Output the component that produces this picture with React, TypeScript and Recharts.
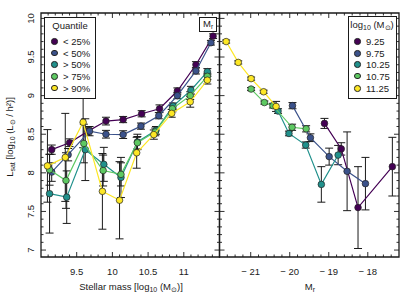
import React from "react";
import { ScatterChart, Scatter, XAxis, YAxis, ErrorBar, ReferenceArea, Legend } from "recharts";

const FONT = '"Liberation Sans", Arial, Helvetica, sans-serif';
const INK = "#1a1a1a";
const W = 411, H = 294;
// frame edges (px) of the two panels
const LEFT = 41, MID = 219.5, RIGHT = 399, TOP = 13, BOTTOM = 257;

const lsatDomain = [6.91, 10.07];
const massDomain = [9.0, 11.5];
const magDomain = [-21.8, -17.2];

const lsatMajor = [7, 7.5, 8, 8.5, 9, 9.5, 10];
const massMajor = [9.5, 10, 10.5, 11];
const magMajor = [-21, -20, -19, -18];
const magLabels = ["\u2212 21", "\u2212 20", "\u2212 19", "\u2212 18"];

const steps = (from: number, to: number, step: number) => {
  const out: number[] = [];
  for (let v = from; v <= to + 1e-9; v += step) out.push(Math.round(v * 100) / 100);
  return out;
};
const lsatTicks = steps(7.0, 10.0, 0.1);
const massTicks = steps(9.1, 11.4, 0.1);
const magTicks = steps(-21.6, -17.4, 0.2);
const isMajor = (list: number[], v: number) => list.some((m) => Math.abs(m - v) < 1e-6);

const colors = ["#440154", "#3b528b", "#21918c", "#5ec962", "#fde725"];
const quantileNames = ["< 25%", "< 50%", "> 50%", "> 75%", "> 90%"];
const massBinNames = ["9.25", "9.75", "10.25", "10.75", "11.25"];

// left panel: stellar mass quantiles
const q25X = [9.15, 9.40, 9.66, 9.91, 10.15, 10.41, 10.66, 10.91, 11.17, 11.41];
const q25Y = [8.30, 8.39, 8.54, 8.67, 8.69, 8.765, 8.83, 9.06, 9.40, 9.77];
const q25E = [0.06, 0.05, 0.05, 0.05, 0.04, 0.04, 0.05, 0.04, 0.04, 0.03];
const q50X = [9.15, 9.38, 9.68, 9.91, 10.15, 10.40, 10.65, 10.91, 11.17, 11.38];
const q50Y = [8.01, 8.235, 8.54, 8.50, 8.495, 8.605, 8.74, 9.00, 9.32, 9.685];
const q50E = [0.12, 0.08, 0.06, 0.05, 0.05, 0.04, 0.04, 0.04, 0.04, 0.03];
const g50X = [9.12, 9.36, 9.62, 9.88, 10.12, 10.35, 10.61, 10.85, 11.10, 11.33];
const g50Y = [7.73, 7.685, 8.30, 8.11, 7.94, 8.40, 8.55, 8.865, 9.07, 9.31];
const g50E = [0.51, 0.34, 0.40, 0.22, 0.26, 0.10, 0.05, 0.04, 0.05, 0.04];
const g75X = [9.12, 9.35, 9.60, 9.87, 10.12, 10.35, 10.60, 10.84, 11.09, 11.33];
const g75Y = [8.04, 7.90, 8.38, 8.03, 7.98, 8.39, 8.53, 8.83, 9.00, 9.25];
const g75E = [0.20, 0.36, 0.25, 0.20, 0.15, 0.08, 0.05, 0.04, 0.05, 0.04];
const g90X = [9.09, 9.34, 9.59, 9.86, 10.10, 10.34, 10.58, 10.83, 11.09, 11.33];
const g90Y = [8.09, 8.20, 8.655, 7.76, 7.645, 8.26, 8.495, 8.77, 8.92, 9.20];
const g90E = [0.47, 0.57, 0.33, 0.49, 0.50, 0.20, 0.06, 0.05, 0.07, 0.05];

// right panel: absolute magnitude, by stellar mass bin
const m925X = [-19.11, -18.68, -18.25, -17.37];
const m925Y = [8.64, 8.31, 7.55, 8.08];
const m925E = [0.065, 0.08, 0.53, 0.38];
const m975X = [-19.93, -19.47, -18.99, -18.53, -18.06];
const m975Y = [8.87, 8.455, 8.21, 8.02, 7.86];
const m975E = [0.04, 0.05, 0.11, 0.51, 0.34];
const m1025X = [-20.30, -20.02, -19.59, -19.19, -18.76];
const m1025Y = [8.80, 8.51, 8.36, 7.85, 8.23];
const m1025E = [0.03, 0.03, 0.04, 0.23, 0.125];
const m1075X = [-20.99, -20.65, -20.43, -19.94, -19.58];
const m1075Y = [9.085, 8.91, 8.87, 8.59, 8.57];
const m1075E = [0.02, 0.02, 0.03, 0.04, 0.04];
const m1125X = [-21.63, -21.32, -20.99, -20.67, -20.35];
const m1125Y = [9.70, 9.43, 9.22, 9.05, 8.86];
const m1125E = [0.02, 0.02, 0.02, 0.02, 0.065];

const rows = (xs: number[], ys: number[], es: number[]) => xs.map((x, i) => ({ x, y: ys[i], e: es[i] }));

const massSeries = [
  rows(q25X, q25Y, q25E), rows(q50X, q50Y, q50E), rows(g50X, g50Y, g50E),
  rows(g75X, g75Y, g75E), rows(g90X, g90Y, g90E),
];
const magSeries = [
  rows(m925X, m925Y, m925E), rows(m975X, m975Y, m975E), rows(m1025X, m1025Y, m1025E),
  rows(m1075X, m1075Y, m1075E), rows(m1125X, m1125Y, m1125E),
];

const tl = { stroke: INK, strokeWidth: 0.9 };

const MassTick = (p: any) => {
  const v = p.payload.value;
  const major = isMajor(massMajor, v);
  const len = major ? 5 : 2.5;
  return (
    <g>
      <line x1={p.x} x2={p.x} y1={BOTTOM} y2={BOTTOM - len} {...tl} />
      <line x1={p.x} x2={p.x} y1={TOP} y2={TOP + len} {...tl} />
      {major && (
        <text x={p.x} y={274.5} textAnchor="middle" fontSize={9.5} fill={INK} fontFamily={FONT}>{v}</text>
      )}
    </g>
  );
};

const MagTick = (p: any) => {
  const v = p.payload.value;
  const k = magMajor.findIndex((m) => Math.abs(m - v) < 1e-6);
  const len = k >= 0 ? 5 : 2.5;
  return (
    <g>
      <line x1={p.x} x2={p.x} y1={BOTTOM} y2={BOTTOM - len} {...tl} />
      <line x1={p.x} x2={p.x} y1={TOP} y2={TOP + len} {...tl} />
      {k >= 0 && (
        <text x={p.x} y={274.5} textAnchor="middle" fontSize={9.5} fill={INK} fontFamily={FONT}>{magLabels[k]}</text>
      )}
    </g>
  );
};

// left axis ticks, also draws the inward ticks of the shared and the right frame edge
const LsatTick = (p: any) => {
  const v = p.payload.value;
  const major = isMajor(lsatMajor, v);
  const len = major ? 5 : 2.5;
  return (
    <g>
      <line x1={LEFT} x2={LEFT + len} y1={p.y} y2={p.y} {...tl} />
      <line x1={MID - len} x2={MID + len} y1={p.y} y2={p.y} {...tl} />
      <line x1={RIGHT - len} x2={RIGHT} y1={p.y} y2={p.y} {...tl} />
      {major && (
        <text transform={`translate(34, ${p.y}) rotate(-90)`} textAnchor="middle" fontSize={9.5} fill={INK} fontFamily={FONT}>{v}</text>
      )}
    </g>
  );
};

const sub = (s: string) => [
  <tspan key="a" dy={2.2} fontSize={7}>{s}</tspan>,
];

const YTitle = () => (
  <text transform="translate(13, 137) rotate(-90)" textAnchor="middle" fontSize={9.5} fill={INK} fontFamily={FONT}>
    L<tspan dy={2.2} fontSize={7}>sat</tspan>
    <tspan dy={-2.2}> [log</tspan>
    <tspan dy={2.2} fontSize={7}>10</tspan>
    <tspan dy={-2.2}> (L</tspan>
    <tspan dy={2.2} fontSize={7}>{"\u2299"}</tspan>
    <tspan dy={-2.2}> / h{"\u00b2"})]</tspan>
  </text>
);

const MassTitle = () => (
  <text x={131} y={289.5} textAnchor="middle" fontSize={9.5} fill={INK} fontFamily={FONT}>
    Stellar mass [log<tspan dy={2.2} fontSize={7}>10</tspan>
    <tspan dy={-2.2}> (M</tspan>
    <tspan dy={2.2} fontSize={7}>{"\u2299"}</tspan>
    <tspan dy={-2.2}>)]</tspan>
  </text>
);

const MagTitle = () => (
  <text x={310} y={289.5} textAnchor="middle" fontSize={9.5} fill={INK} fontFamily={FONT}>
    M<tspan dy={2.2} fontSize={7}>r</tspan>
  </text>
);

const makeDot = (color: string) => (p: any) => (
  <circle cx={p.cx} cy={p.cy} r={3.3} fill={color} stroke="#222" strokeWidth={0.7} />
);

const legendBox = (title: React.ReactNode, names: string[], w: number, h: number, mx: number, tx: number, rowTop: number[]) => () => (
  <div style={{
    position: "relative", width: w, height: h, boxSizing: "border-box", border: `1px solid ${INK}`,
    background: "#fff", fontFamily: FONT, fontSize: 9.5, color: INK,
  }}>
    <div style={{ position: "absolute", top: 2, left: 0, width: "100%", textAlign: "center", lineHeight: "11px", whiteSpace: "nowrap" }}>{title}</div>
    {names.map((n, i) => (
      <div key={n} style={{ position: "absolute", top: rowTop[i], left: 0, height: 11, lineHeight: "11px", whiteSpace: "nowrap" }}>
        <span style={{
          position: "absolute", left: mx, top: 2.2, width: 6.6, height: 6.6, borderRadius: "50%",
          background: colors[i], boxSizing: "border-box", border: "0.7px solid #222",
        }} />
        <span style={{ position: "absolute", left: tx, top: 0 }}>{n}</span>
      </div>
    ))}
  </div>
);

const QuantileLegend = legendBox("Quantile", quantileNames, 52, 82, 6, 18, [18, 29.6, 41.3, 53, 64.7]);
const MassBinLegend = legendBox(
  <span>log<sub style={{ fontSize: 7, verticalAlign: "-2px" }}>10</sub> (M<sub style={{ fontSize: 7, verticalAlign: "-2px" }}>{"\u2299"}</sub>)</span>,
  massBinNames, 49, 83, 5.7, 17.5, [19.2, 30.8, 41.8, 53.5, 65.8]
);

export default function App() {
  return (
    <div style={{ position: "absolute", left: 0, top: 0, width: W, height: H, background: "#fff" }}>
      <div style={{ position: "absolute", left: 0, top: 0 }}>
        <ScatterChart width={W} height={H} margin={{ top: TOP, right: W - MID, bottom: 0, left: 0 }}>
          <XAxis xAxisId="m" type="number" dataKey="x" domain={massDomain} ticks={massTicks} interval={0}
                 tick={<MassTick />} tickLine={false} axisLine={false} height={H - BOTTOM} allowDataOverflow
                 label={{ content: () => <MassTitle /> }} />
          <YAxis yAxisId="l" type="number" dataKey="y" domain={lsatDomain} ticks={lsatTicks} interval={0}
                 tick={<LsatTick />} tickLine={false} axisLine={false} width={LEFT} allowDataOverflow
                 label={{ content: () => <YTitle /> }} />
          <ReferenceArea xAxisId="m" yAxisId="l" x1={massDomain[0]} x2={massDomain[1]} y1={lsatDomain[0]} y2={lsatDomain[1]}
                         fill="none" fillOpacity={0} stroke={INK} strokeWidth={1.3} ifOverflow="visible" />
          {massSeries.map((d, i) => (
            <Scatter key={quantileNames[i]} name={quantileNames[i]} data={d} xAxisId="m" yAxisId="l"
                     fill={colors[i]} line={{ stroke: colors[i], strokeWidth: 1.2 }} shape={makeDot(colors[i])}
                     isAnimationActive={false}>
              <ErrorBar dataKey="e" direction="y" width={4} stroke={INK} strokeWidth={1} />
            </Scatter>
          ))}
          <Legend layout="vertical" align="center" verticalAlign="middle" content={QuantileLegend}
                  wrapperStyle={{ left: 44, top: 17, right: "auto", bottom: "auto", width: 52, height: 82 }} />
        </ScatterChart>
      </div>
      <div style={{ position: "absolute", left: 0, top: 0 }}>
        <ScatterChart width={W} height={H} margin={{ top: TOP, right: W - RIGHT, bottom: 0, left: MID }}>
          <XAxis xAxisId="r" type="number" dataKey="x" domain={magDomain} ticks={magTicks} interval={0}
                 tick={<MagTick />} tickLine={false} axisLine={false} height={H - BOTTOM} allowDataOverflow
                 label={{ content: () => <MagTitle /> }} />
          <YAxis yAxisId="l" type="number" dataKey="y" domain={lsatDomain} hide allowDataOverflow />
          <ReferenceArea xAxisId="r" yAxisId="l" x1={magDomain[0]} x2={magDomain[1]} y1={lsatDomain[0]} y2={lsatDomain[1]}
                         fill="none" fillOpacity={0} stroke={INK} strokeWidth={1.3} ifOverflow="visible" />
          {magSeries.map((d, i) => (
            <Scatter key={massBinNames[i]} name={massBinNames[i]} data={d} xAxisId="r" yAxisId="l"
                     fill={colors[i]} line={{ stroke: colors[i], strokeWidth: 1.2 }} shape={makeDot(colors[i])}
                     isAnimationActive={false}>
              <ErrorBar dataKey="e" direction="y" width={4} stroke={INK} strokeWidth={1} />
            </Scatter>
          ))}
          <Legend layout="vertical" align="center" verticalAlign="middle" content={MassBinLegend}
                  wrapperStyle={{ left: 347.5, top: 16, right: "auto", bottom: "auto", width: 49, height: 83 }} />
        </ScatterChart>
      </div>
      <div style={{
        position: "absolute", left: 199, top: 17, width: 18, height: 15, boxSizing: "border-box",
        border: `1px solid ${INK}`, background: "#fff", fontFamily: FONT, fontSize: 9.5, color: INK,
        textAlign: "center", lineHeight: "12px",
      }}>
        M<sub style={{ fontSize: 6.5, verticalAlign: "-2px" }}>r</sub>
      </div>
    </div>
  );
}
